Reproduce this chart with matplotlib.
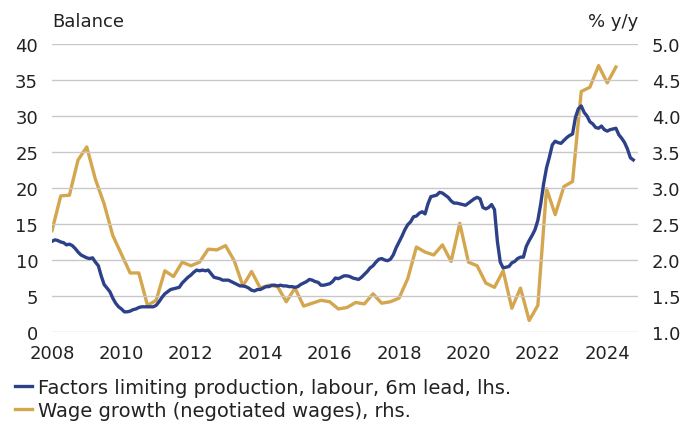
import numpy as np
import matplotlib.pyplot as plt

# Factors limiting production, labour (6m lead), monthly from Jan 2008, balance
labour_2008 = [12.6, 12.8, 12.7, 12.5, 12.4, 12.1, 12.2, 12.0, 11.6, 11.1, 10.7, 10.5]
labour_2009 = [10.3, 10.2, 10.3, 9.7, 9.2, 7.8, 6.6, 6.1, 5.6, 4.7, 4.0, 3.5]
labour_2010 = [3.2, 2.8, 2.8, 2.9, 3.1, 3.2, 3.4, 3.5, 3.5, 3.5, 3.5, 3.5]
labour_2011 = [3.7, 4.2, 4.8, 5.3, 5.6, 5.9, 6.0, 6.1, 6.2, 6.8, 7.2, 7.6]
labour_2012 = [7.9, 8.3, 8.6, 8.5, 8.6, 8.5, 8.6, 8.1, 7.6, 7.5, 7.4, 7.2]
labour_2013 = [7.2, 7.2, 7.0, 6.8, 6.6, 6.4, 6.4, 6.3, 6.1, 5.8, 5.7, 5.9]
labour_2014 = [5.9, 6.1, 6.3, 6.3, 6.5, 6.5, 6.4, 6.5, 6.4, 6.4, 6.3, 6.3]
labour_2015 = [6.2, 6.3, 6.6, 6.8, 7.0, 7.3, 7.2, 7.0, 6.9, 6.5, 6.5, 6.6]
labour_2016 = [6.7, 7.0, 7.5, 7.4, 7.6, 7.8, 7.8, 7.7, 7.5, 7.4, 7.3, 7.6]
labour_2017 = [8.0, 8.4, 8.9, 9.2, 9.7, 10.1, 10.2, 10.0, 9.9, 10.1, 10.7, 11.7]
labour_2018 = [12.5, 13.3, 14.2, 14.9, 15.3, 16.0, 16.1, 16.5, 16.7, 16.4, 17.8, 18.8]
labour_2019 = [18.9, 19.0, 19.4, 19.3, 19.0, 18.7, 18.2, 17.9, 17.9, 17.8, 17.7, 17.6]
labour_2020 = [17.9, 18.2, 18.5, 18.7, 18.5, 17.3, 17.1, 17.3, 17.7, 17.0, 12.6, 9.7]
labour_2021 = [8.9, 9.0, 9.1, 9.6, 9.8, 10.2, 10.4, 10.4, 11.9, 12.7, 13.4, 14.2]
labour_2022 = [15.5, 17.8, 20.6, 22.8, 24.3, 26.0, 26.5, 26.3, 26.2, 26.6, 27.0, 27.3]
labour_2023 = [27.5, 29.8, 31.0, 31.4, 30.5, 30.0, 29.2, 28.9, 28.4, 28.3, 28.6, 28.1]
labour_2024 = [27.9, 28.1, 28.2, 28.3, 27.4, 26.9, 26.3, 25.4, 24.2, 23.9]

labour = (labour_2008 + labour_2009 + labour_2010 + labour_2011 + labour_2012
          + labour_2013 + labour_2014 + labour_2015 + labour_2016 + labour_2017
          + labour_2018 + labour_2019 + labour_2020 + labour_2021 + labour_2022
          + labour_2023 + labour_2024)

# Wage growth (negotiated wages), quarterly from 2008Q1, % y/y
wages = [2.41, 2.89, 2.90, 3.39, 3.57, 3.12, 2.78, 2.34,
         2.08, 1.82, 1.82, 1.37, 1.44, 1.85, 1.77, 1.97,
         1.92, 1.97, 2.15, 2.14, 2.20, 1.99, 1.64, 1.84,
         1.61, 1.65, 1.63, 1.42, 1.61, 1.36, 1.40, 1.44,
         1.42, 1.32, 1.34, 1.41, 1.39, 1.53, 1.40, 1.42,
         1.47, 1.74, 2.18, 2.11, 2.07, 2.21, 1.98, 2.51,
         1.97, 1.92, 1.68, 1.62, 1.85, 1.33, 1.61, 1.16,
         1.37, 2.99, 2.63, 3.02, 3.09, 4.34, 4.40, 4.70,
         4.46, 4.68]

year_ticks = [2008, 2010, 2012, 2014, 2016, 2018, 2020, 2022, 2024]
left_ticks = [0, 5, 10, 15, 20, 25, 30, 35, 40]
right_ticks = [1.0, 1.5, 2.0, 2.5, 3.0, 3.5, 4.0, 4.5, 5.0]

labour_x = 2008 + np.arange(len(labour)) / 12
wages_x = 2008 + np.arange(len(wages)) / 4

blue = '#2d4189'
gold = '#d4a64e'
txt = '#222222'

plt.rcParams['font.family'] = 'DejaVu Sans'
plt.rcParams['font.size'] = 13

fig = plt.figure(figsize=(6.94, 4.31), dpi=100)
ax = fig.add_axes([0.075, 0.2274, 0.844, 0.6682])
ax2 = ax.twinx()

l1, = ax.plot(labour_x, labour, color=blue, lw=2.4, solid_joinstyle='round', zorder=3)
l2, = ax2.plot(wages_x, wages, color=gold, lw=2.4, solid_joinstyle='round', zorder=2)

# blue on top of gold
ax.set_zorder(ax2.get_zorder() + 1)
ax.patch.set_visible(False)

ax.set_xlim(2008, 2024.88)
ax.set_ylim(0, 40)
ax2.set_ylim(1.0, 5.0)
ax.set_xticks(year_ticks)
ax.set_yticks(left_ticks)
ax2.set_yticks(right_ticks)
ax2.set_yticklabels(['%.1f' % t for t in right_ticks])

ax.grid(axis='y', color='#c8c8c8', lw=1)
ax.set_axisbelow(True)
for a in (ax, ax2):
    for s in a.spines.values():
        s.set_visible(False)
    a.tick_params(length=0, colors=txt, labelsize=13)
ax.tick_params(axis='y', pad=10)
ax2.tick_params(axis='y', pad=10)
ax.tick_params(axis='x', pad=9)

fig.text(0.075, 0.948, 'Balance', ha='left', va='center', color=txt, fontsize=13)
fig.text(0.919, 0.948, '% y/y', ha='right', va='center', color=txt, fontsize=13)

fig.legend([l1, l2],
           ['Factors limiting production, labour, 6m lead, lhs.',
            'Wage growth (negotiated wages), rhs.'],
           loc='upper left', bbox_to_anchor=(0.022, 0.121), frameon=False,
           handlelength=0.85, handletextpad=0.3, labelspacing=0.2,
           borderaxespad=0, borderpad=0, fontsize=14, labelcolor=txt)

fig.savefig('out.png', dpi=100)
